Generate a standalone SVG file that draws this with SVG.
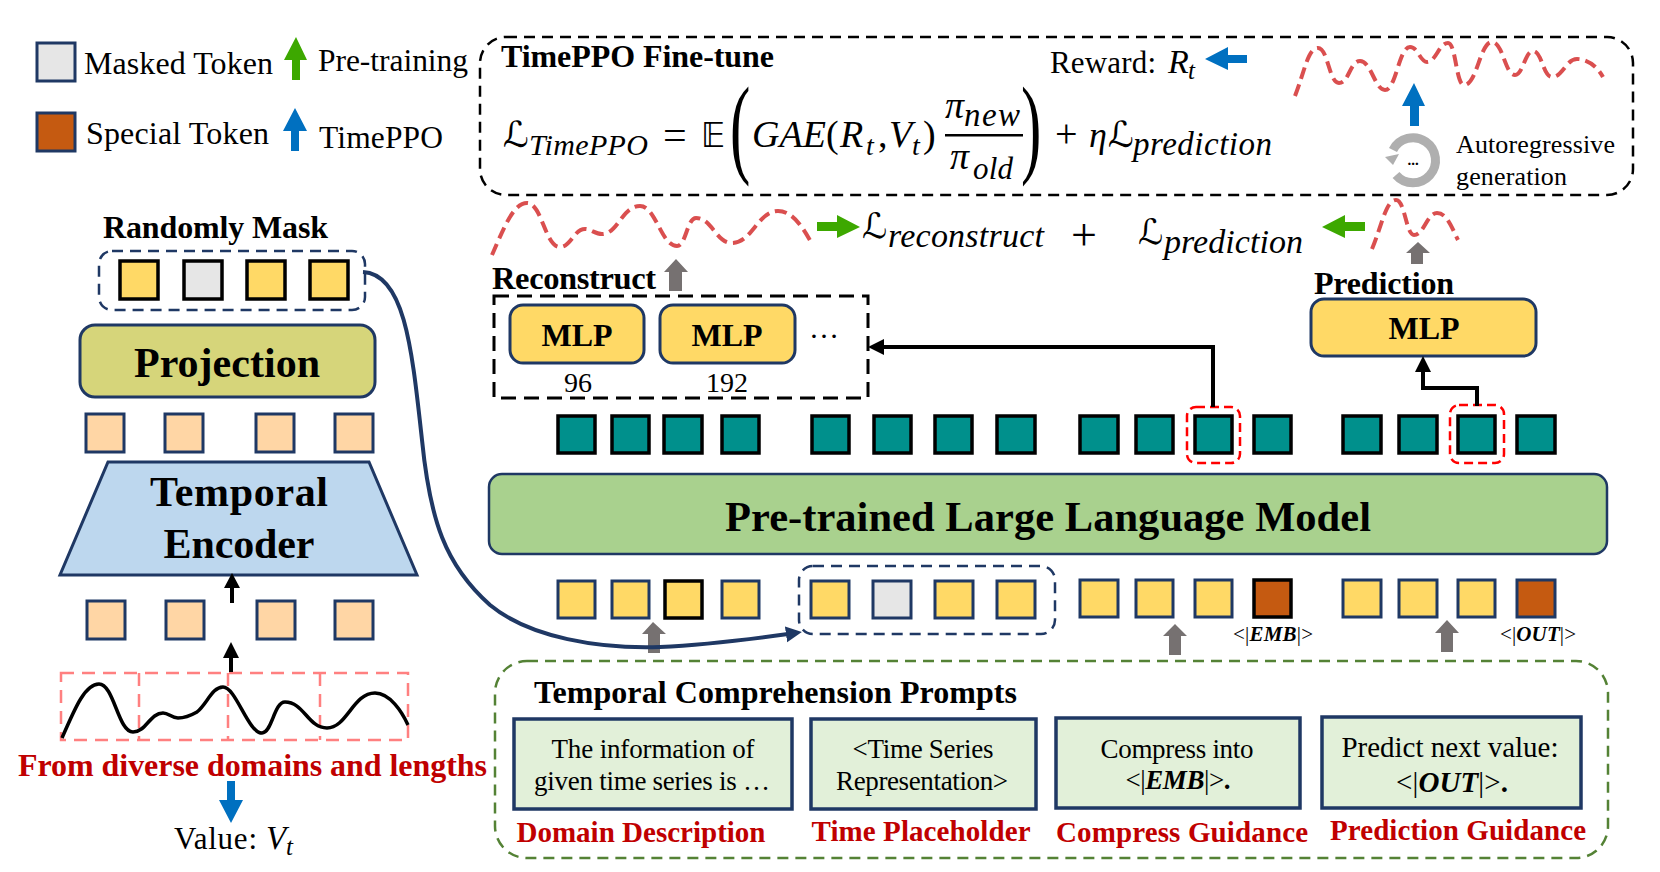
<svg xmlns="http://www.w3.org/2000/svg" width="1660" height="872" viewBox="0 0 1660 872">
<style>
text{font-family:"Liberation Serif","DejaVu Serif",serif;fill:#000}
.b{font-weight:700}.i{font-style:italic}.m{text-anchor:middle}
.r{fill:#C00000;font-weight:700}
.ms{font-family:"DejaVu Sans","Liberation Serif",serif}
.tok{stroke:#1F3864;stroke-width:3}
.k{stroke:#000;stroke-width:3.5}
.y{fill:#FFD966}.g{fill:#E6E6E6}.o{fill:#C55A11}.p{fill:#FFD6A5}.t{fill:#00908C;stroke:#000;stroke-width:3.5}
.box{stroke:#1F3864;stroke-width:3}
.pr{fill:#E2F0D9;stroke:#1F3864;stroke-width:3.5}
.d{fill:none;stroke-dasharray:11 7}
.wave{fill:none;stroke:#DA4F4F;stroke-width:4;stroke-dasharray:12 6}
.pk{fill:none;stroke:#FF8080;stroke-width:2.5;stroke-dasharray:13 8}
.rd{fill:none;stroke:#FF0000;stroke-width:2.5;stroke-dasharray:9 5}
.ga{fill:#767171}.gr{fill:#3DA800}.bl{fill:#0070C0}
.ln{fill:none;stroke:#000;stroke-width:4}
</style>
<defs>
<marker id="hn" markerUnits="userSpaceOnUse" markerWidth="20" markerHeight="20" refX="2" refY="8" orient="auto"><path d="M0 0L16 8L0 16Z" fill="#1F3864"/></marker>
</defs>
<rect width="1660" height="872" fill="#fff"/>

<!-- legend -->
<g id="legend">
<rect class="tok g" x="37" y="43" width="38" height="38"/>
<rect class="tok o" x="37" y="113" width="38" height="38"/>
<text x="84" y="74" font-size="32" textLength="189">Masked Token</text>
<text x="86" y="144" font-size="32" textLength="183">Special Token</text>
<text x="318" y="71" font-size="31.5" textLength="150">Pre-training</text>
<text x="319" y="148" font-size="31.5" textLength="124">TimePPO</text>
<polygon class="gr" points="296,37 307,60 300,60 300,80 292,80 292,60 284,60"/>
<polygon class="bl" points="295,108 307,131 299,131 299,151 291,151 291,131 283,131"/>
</g>

<!-- encoder column -->
<g id="mask-tokens">
<text class="b" x="103" y="238" font-size="32" textLength="225">Randomly Mask</text>
<rect x="99" y="251" width="266" height="59" rx="13" class="d" stroke="#1F3864" stroke-width="2.5"/>
<rect class="k y" x="120" y="261" width="38" height="38"/>
<rect class="k g" x="184" y="261" width="38" height="38"/>
<rect class="k y" x="247" y="261" width="38" height="38"/>
<rect class="k y" x="310" y="261" width="38" height="38"/>
</g>
<g id="projection">
<rect class="box" x="80" y="325" width="295" height="72" rx="15" fill="#D6D57A"/>
<text class="b m" x="227" y="377" font-size="42" textLength="186">Projection</text>
</g>
<g id="latent-tokens">
<rect class="tok p" x="86" y="414" width="38" height="38"/>
<rect class="tok p" x="165" y="414" width="38" height="38"/>
<rect class="tok p" x="256" y="414" width="38" height="38"/>
<rect class="tok p" x="335" y="414" width="38" height="38"/>
</g>
<g id="temporal-encoder">
<polygon class="box" points="108,462 369,462 417,575 60,575" fill="#BDD7EE"/>
<text class="b m" x="239" y="506" font-size="42" textLength="178">Temporal</text>
<text class="b m" x="239" y="558" font-size="42" textLength="151">Encoder</text>
</g>
<g id="patch-tokens">
<rect class="tok p" x="87" y="601" width="38" height="38"/>
<rect class="tok p" x="166" y="601" width="38" height="38"/>
<rect class="tok p" x="257" y="601" width="38" height="38"/>
<rect class="tok p" x="335" y="601" width="38" height="38"/>
</g>
<g id="series-input">
<path class="pk" d="M61 673H408V740H61Z"/>
<path class="pk" d="M139 673V740M228 673V740M320 673V740"/>
<path d="M62 738C75 708 85 684 99 684C114 684 118 732 133 732C146 732 150 713 163 713C169 713 171 718 178 718C185 718 190 716 197 712C207 704 212 687 223 687C236 687 248 733 262 733C272 733 274 702 285 702C304 702 308 728 327 728C347 728 353 693 375 693C390 693 402 712 408 725" fill="none" stroke="#000" stroke-width="3.5"/>
<text class="r" x="18" y="776" font-size="32" textLength="469">From diverse domains and lengths</text>
<polygon class="bl" points="227,781 235,781 235,800 243,800 231,823 219,800 227,800"/>
<text x="174" y="849" font-size="31" textLength="83">Value:</text>
<text class="i" x="266" y="849" font-size="33">V</text>
<text class="i" x="286" y="855" font-size="25">t</text>
</g>

<!-- fine-tune panel -->
<g id="timeppo-panel">
<rect x="480" y="37" width="1153" height="158" rx="26" class="d" stroke="#000" stroke-width="2.5"/>
<text class="b" x="501" y="67" font-size="32" textLength="273">TimePPO Fine-tune</text>
<text class="ms" x="503" y="147" font-size="36">ℒ</text>
<text class="i" x="529" y="155" font-size="30" textLength="119">TimePPO</text>
<text x="663" y="149" font-size="42" textLength="24">=</text>
<text x="701" y="147" font-size="33" style="font-family:'DejaVu Sans',serif">𝔼</text>
<text transform="translate(730,163) scale(.55,1)" font-size="111">(</text>
<text x="752" y="147" font-size="38" class="i" textLength="74">GAE</text>
<text x="826" y="147" font-size="38">(</text>
<text x="840" y="147" font-size="38" class="i">R</text>
<text x="866" y="155" font-size="28" class="i">t</text>
<text x="878" y="147" font-size="38">,</text>
<text x="889" y="147" font-size="38" class="i">V</text>
<text x="912" y="155" font-size="28" class="i">t</text>
<text x="923" y="147" font-size="38">)</text>
<rect x="945" y="134" width="78" height="2.5"/>
<text x="945" y="118" font-size="38" class="i">π</text>
<text x="964" y="126" font-size="33" class="i" textLength="56">new</text>
<text x="950" y="169" font-size="38" class="i">π</text>
<text x="973" y="179" font-size="31" class="i" textLength="40">old</text>
<text transform="translate(1021,163) scale(.55,1)" font-size="111">)</text>
<text x="1055" y="147" font-size="40" textLength="22">+</text>
<text x="1089" y="147" font-size="36" class="i">η</text>
<text class="ms" x="1108" y="147" font-size="36">ℒ</text>
<text class="i" x="1133" y="155" font-size="33" textLength="139">prediction</text>
<text x="1050" y="73" font-size="31" textLength="106">Reward:</text>
<text x="1168" y="73" font-size="34" class="i">R</text>
<text x="1188" y="79" font-size="25" class="i">t</text>
<polygon class="bl" points="1205,59 1228,47 1228,55 1247,55 1247,63 1228,63 1228,70"/>
<path class="wave" d="M1295 96C1305 70 1308 48 1318 48C1328 48 1329 83 1339 83C1349 83 1350 61 1360 61C1371 61 1375 90 1385 90C1396 90 1399 47 1410 47C1418 47 1420 62 1427 62C1436 62 1439 43 1448 43C1456 43 1456 85 1464 85C1477 85 1480 42 1492 42C1503 42 1505 75 1515 75C1523 75 1525 51 1533 51C1542 51 1543 77 1552 77C1563 77 1566 59 1577 59C1589 59 1598 68 1603 77"/>
<polygon class="bl" points="1414,83 1425,106 1419,106 1419,126 1410,126 1410,106 1402,106"/>
<path d="M1396 175A22.5 22.5 0 1 0 1393 150" fill="none" stroke="#AFAFAF" stroke-width="9"/>
<polygon points="1385,157 1399,154 1393,165" fill="#AFAFAF"/>
<text class="m b" x="1413" y="165" font-size="15">...</text>
<text x="1456" y="153" font-size="26" textLength="159">Autoregressive</text>
<text x="1456" y="185" font-size="26" textLength="111">generation</text>
</g>

<!-- loss row -->
<g id="loss-row">
<path class="wave" d="M492 255C505 225 514 203 527 203C542 203 545 247 560 247C571 247 574 229 585 229C591 229 595 234 602 234C618 234 622 206 640 206C656 206 661 246 677 246C686 246 687 218 696 218C712 218 716 243 732 243C752 243 758 211 778 211C793 211 803 228 811 242"/>
<polygon class="gr" points="817,222 837,222 837,215 860,227 837,238 837,231 817,231"/>
<text class="ms" x="862" y="238" font-size="35">ℒ</text>
<text class="i" x="888" y="247" font-size="34" textLength="156">reconstruct</text>
<text x="1071" y="250" font-size="46" textLength="26">+</text>
<text class="ms" x="1138" y="244" font-size="35">ℒ</text>
<text class="i" x="1164" y="253" font-size="34" textLength="139">prediction</text>
<polygon class="gr" points="1322,227 1345,215 1345,222 1365,222 1365,231 1345,231 1345,238"/>
<path class="wave" d="M1372 249C1382 225 1386 200 1396 200C1405 200 1406 235 1414 235C1424 235 1427 213 1437 213C1447 213 1452 228 1458 240"/>
<polygon class="ga" points="1418,242 1430,253 1423,253 1423,264 1411,264 1411,253 1406,253"/>
<polygon class="ga" points="676,259 688,272 682,272 682,291 669,291 669,272 664,272"/>
</g>

<!-- reconstruction and prediction heads -->
<g id="reconstruct-head">
<text class="b" x="492" y="289" font-size="32.5" textLength="164">Reconstruct</text>
<rect x="494" y="296" width="374" height="102" fill="none" stroke="#000" stroke-width="3" stroke-dasharray="15 8"/>
<rect class="box y" x="510" y="305" width="134" height="58" rx="13"/>
<rect class="box y" x="660" y="305" width="135" height="58" rx="13"/>
<text class="b m" x="577" y="346" font-size="32">MLP</text>
<text class="b m" x="727" y="346" font-size="32">MLP</text>
<text x="809" y="338" font-size="30">…</text>
<text class="m" x="578" y="392" font-size="28">96</text>
<text class="m" x="727" y="392" font-size="28">192</text>
</g>
<g id="prediction-head">
<text class="b" x="1314" y="294" font-size="32" textLength="140">Prediction</text>
<rect class="box y" x="1311" y="299" width="225" height="57" rx="13"/>
<text class="b m" x="1424" y="339" font-size="32">MLP</text>
</g>

<!-- output tokens -->
<g id="output-tokens">
<rect class="t" x="558" y="416" width="37" height="37"/><rect class="t" x="612" y="416" width="37" height="37"/><rect class="t" x="664" y="416" width="38" height="37"/><rect class="t" x="722" y="416" width="37" height="37"/>
<rect class="t" x="812" y="416" width="37" height="37"/><rect class="t" x="874" y="416" width="37" height="37"/><rect class="t" x="935" y="416" width="37" height="37"/><rect class="t" x="997" y="416" width="38" height="37"/>
<rect class="t" x="1080" y="416" width="38" height="37"/><rect class="t" x="1136" y="416" width="37" height="37"/><rect class="t" x="1195" y="416" width="37" height="37"/><rect class="t" x="1254" y="416" width="37" height="37"/>
<rect class="t" x="1343" y="416" width="38" height="37"/><rect class="t" x="1399" y="416" width="38" height="37"/><rect class="t" x="1458" y="416" width="37" height="37"/><rect class="t" x="1517" y="416" width="38" height="37"/>
<rect class="rd" x="1187" y="407" width="53" height="56" rx="9"/>
<rect class="rd" x="1450" y="405" width="54" height="58" rx="9"/>
</g>

<g id="language-model">
<rect x="489" y="474" width="1118" height="80" rx="13" fill="#A9D18E" stroke="#1F3864" stroke-width="2.5"/>
<text class="b m" x="1048" y="531" font-size="42.5" textLength="646">Pre-trained Large Language Model</text>
</g>

<!-- input tokens -->
<g id="input-tokens">
<rect class="tok y" x="558" y="581" width="37" height="37"/><rect class="tok y" x="612" y="581" width="37" height="37"/><rect class="k y" x="665" y="581" width="37" height="37"/><rect class="tok y" x="722" y="581" width="37" height="37"/>
<rect class="tok y" x="811" y="581" width="38" height="37"/><rect class="tok g" x="873" y="581" width="38" height="37"/><rect class="tok y" x="935" y="581" width="38" height="37"/><rect class="tok y" x="997" y="581" width="38" height="37"/>
<rect class="tok y" x="1080" y="580" width="38" height="37"/><rect class="tok y" x="1136" y="580" width="37" height="37"/><rect class="tok y" x="1195" y="580" width="37" height="37"/><rect class="k o" x="1254" y="580" width="37" height="37"/>
<rect class="tok y" x="1343" y="580" width="38" height="37"/><rect class="tok y" x="1399" y="580" width="38" height="37"/><rect class="tok y" x="1458" y="580" width="37" height="37"/><rect class="tok o" x="1517" y="580" width="38" height="37"/>
<rect x="799" y="566" width="256" height="68" rx="14" class="d" stroke="#1F3864" stroke-width="2.5"/>
<text x="1233" y="641" font-size="21" textLength="80">&lt;|<tspan class="b i">EMB</tspan>|&gt;</text>
<text x="1500" y="641" font-size="21" textLength="76">&lt;|<tspan class="b i">OUT</tspan>|&gt;</text>
<polygon class="ga" points="653,622 666,634 660,634 660,653 648,653 648,634 642,634"/>
<polygon class="ga" points="1175,624 1187,636 1181,636 1181,655 1169,655 1169,636 1163,636"/>
<polygon class="ga" points="1447,620 1459,633 1453,633 1453,652 1441,652 1441,633 1435,633"/>
</g>

<!-- prompt panel -->
<g id="prompts">
<rect x="495" y="661" width="1113" height="197" rx="32" class="d" stroke="#548235" stroke-width="2.5"/>
<text class="b" x="534" y="703" font-size="32" textLength="483">Temporal Comprehension Prompts</text>
<rect class="pr" x="514" y="719" width="278" height="90"/>
<rect class="pr" x="811" y="719" width="225" height="90"/>
<rect class="pr" x="1056" y="718" width="244" height="90"/>
<rect class="pr" x="1322" y="717" width="259" height="91"/>
<text class="m" x="653" y="758" font-size="27" textLength="203">The information of</text>
<text class="m" x="652" y="790" font-size="27" textLength="236">given time series is …</text>
<text class="m" x="923" y="758" font-size="27" textLength="141">&lt;Time Series</text>
<text class="m" x="922" y="790" font-size="27" textLength="172">Representation&gt;</text>
<text class="m" x="1177" y="758" font-size="27" textLength="153">Compress into</text>
<text class="m" x="1178" y="789" font-size="27" textLength="105">&lt;|<tspan class="b i">EMB</tspan>|&gt;<tspan class="b">.</tspan></text>
<text class="m" x="1450" y="757" font-size="29" textLength="217">Predict next value:</text>
<text class="m" x="1452" y="792" font-size="29" textLength="112">&lt;|<tspan class="b i">OUT</tspan>|&gt;<tspan class="b">.</tspan></text>
<text class="r m" x="641" y="842" font-size="29" textLength="249">Domain Description</text>
<text class="r m" x="921" y="841" font-size="29" textLength="219">Time Placeholder</text>
<text class="r m" x="1182" y="842" font-size="29" textLength="252">Compress Guidance</text>
<text class="r m" x="1458" y="840" font-size="29" textLength="256">Prediction Guidance</text>
</g>

<!-- connectors -->
<g id="connectors">
<path class="ln" d="M1213 407V347H884"/>
<polygon points="868,347 884,339 884,355"/>
<path class="ln" d="M1477 406V388H1423V371"/>
<polygon points="1423,356 1431,372 1415,372"/>
<path class="ln" d="M232 603V585"/>
<polygon points="232,573 240,588 224,588"/>
<path class="ln" d="M231 672V655"/>
<polygon points="231,642 239,658 223,658"/>
<path d="M363 272C405 274 412 350 422 440C430 520 445 565 490 605C530 638 600 649 660 647C705 645 745 640 788 634" fill="none" stroke="#1F3864" stroke-width="4" marker-end="url(#hn)"/>
</g>
</svg>
